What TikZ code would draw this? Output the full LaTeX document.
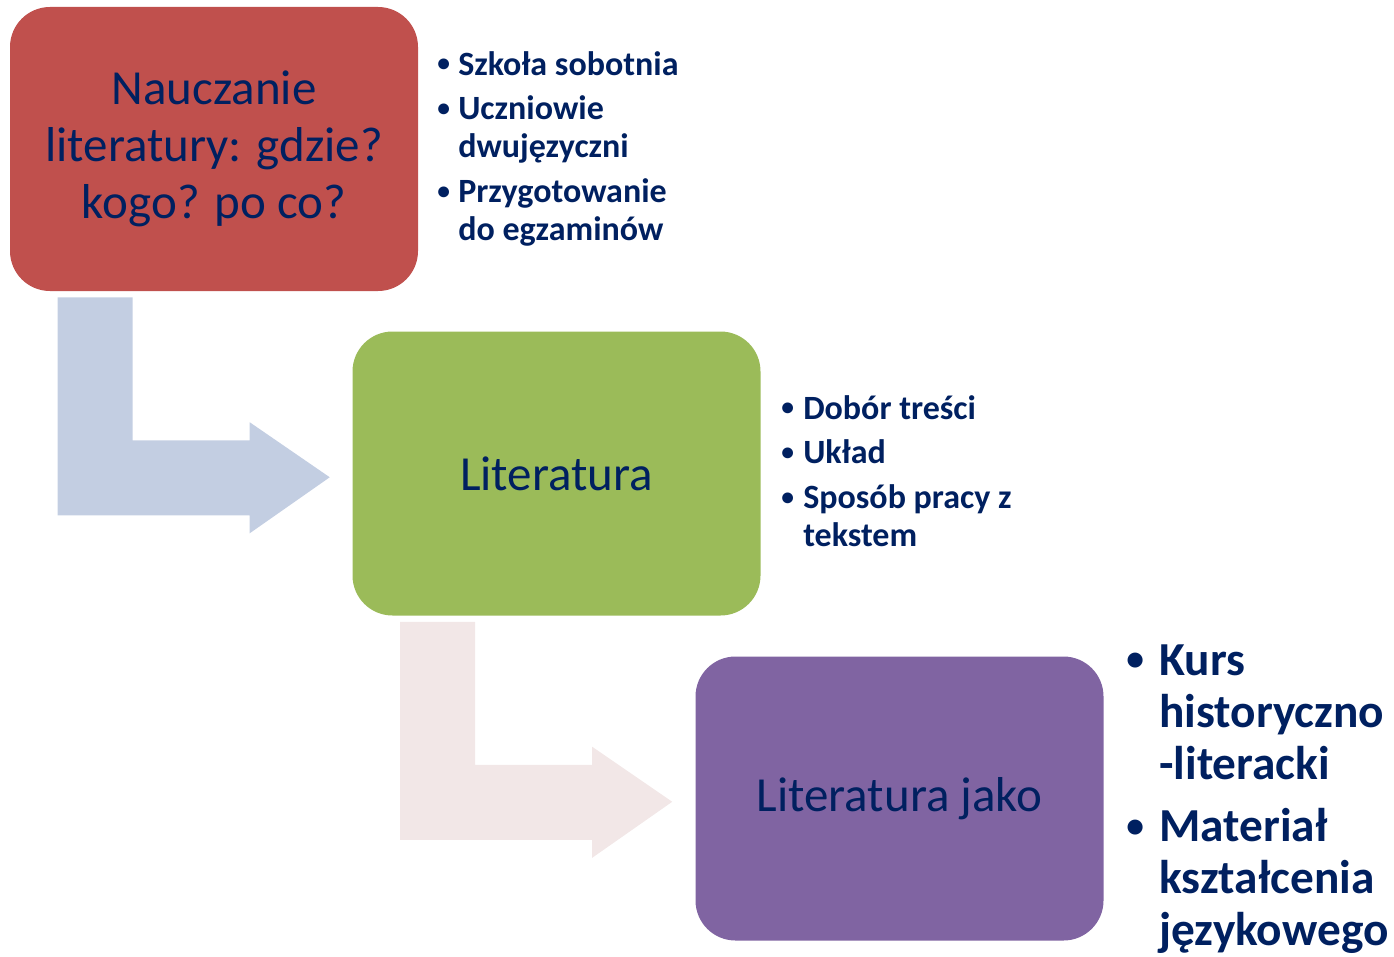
\documentclass[tikz,border=0pt]{standalone}
\usepackage{fontspec}
\usepackage{graphicx}
\setmainfont{Carlito}
\definecolor{boxred}{HTML}{C0504D}
\definecolor{boxgreen}{HTML}{9BBB59}
\definecolor{boxpurple}{HTML}{8064A2}
\definecolor{arrowblue}{HTML}{C3CEE2}
\definecolor{arrowpink}{HTML}{F2E7E7}
\definecolor{navytext}{HTML}{002060}
\tikzset{
  stagebox/.style={rounded corners=30pt, minimum width=306pt, minimum height=213pt,
    align=center, text=navytext, inner sep=0pt,
    font=\fontsize{36.75}{42.75}\selectfont},
  bulletlist/.style={anchor=base west, inner sep=0pt, text=navytext, align=left}
}
\newcommand\bulletrow[1]{\makebox[#1][l]{\raisebox{0.09em}{\scalebox{0.75}{\textbullet}}}}
\begin{document}
\begin{tikzpicture}[x=0.75pt,y=-0.75pt]
  \useasboundingbox (0,0) rectangle (1394,956);
  % stages
  \node[stagebox, fill=boxred] (red) at (214,149) {Nauczanie\\literatury: gdzie?\\kogo? po co?};
  \node[stagebox, fill=boxgreen] (green) at (556.5,473.5) {Literatura};
  \node[stagebox, fill=boxpurple] (purple) at (899.5,798.5) {Literatura jako};
  % bent arrows
  \foreach \from/\tint in {red/arrowblue, green/arrowpink}
    \fill[\tint, shift={(\from.south west)}] (48,6) -- (123,6) -- (123,149) -- (240,149)
      -- (240,131) -- (320,186) -- (240,242) -- (240,224) -- (48,224) -- cycle;
  % lists
  \node[bulletlist, font=\bfseries\fontsize{25.5}{28.5}\selectfont] (listred) at (437,75)
    {\begin{tabular}[t]{@{}l@{}l@{}}
      \bulletrow{15.75pt} & Szkoła sobotnia\\[5pt]
      \bulletrow{15.75pt} & Uczniowie\\
       & dwujęzyczni\\[5pt]
      \bulletrow{15.75pt} & Przygotowanie\\
       & do egzaminów
    \end{tabular}};
  \node[bulletlist, font=\bfseries\fontsize{25.5}{28.5}\selectfont] (listgreen) at (781,419)
    {\begin{tabular}[t]{@{}l@{}l@{}}
      \bulletrow{16.5pt} & Dobór treści\\[5pt]
      \bulletrow{16.5pt} & Układ\\[5pt]
      \bulletrow{16.5pt} & Sposób pracy z\\
       & tekstem
    \end{tabular}};
  \node[bulletlist, font=\bfseries\fontsize{35.5}{39}\selectfont] (listpurple) at (1126,675)
    {\begin{tabular}[t]{@{}l@{}l@{}}
      \bulletrow{24.75pt} & Kurs\\
       & historyczno\\
       & -literacki\\[8pt]
      \bulletrow{24.75pt} & Materiał\\
       & kształcenia\\
       & językowego
    \end{tabular}};
\end{tikzpicture}
\end{document}
